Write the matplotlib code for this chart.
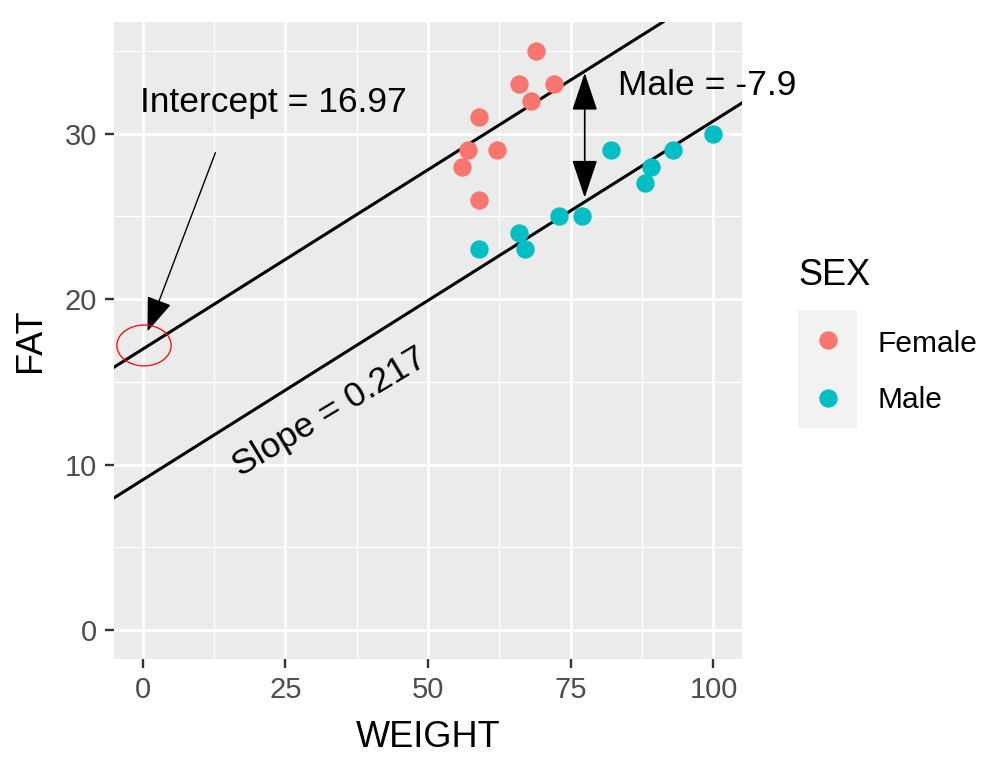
import matplotlib
matplotlib.use("Agg")
import matplotlib.pyplot as plt
from matplotlib.patches import FancyArrowPatch, Ellipse, ArrowStyle

# ---- data ----
categories = ["Female", "Male"]
female_weight = [69, 66, 72, 68, 59, 57, 62, 56, 59]
female_fat = [35, 33, 33, 32, 31, 29, 29, 28, 26]
male_weight = [59, 66, 67, 73, 77, 82, 89, 88, 93, 100]
male_fat = [23, 24, 23, 25, 25, 29, 28, 27, 29, 30]
intercept = 16.97
slope = 0.217
male_effect = -7.9
x_ticks = [0, 25, 50, 75, 100]
y_ticks = [0, 10, 20, 30]
colors = {"Female": "#F8766D", "Male": "#00BFC4"}

FONT = "Liberation Sans"
plt.rcParams["font.family"] = [FONT, "DejaVu Sans"]

W, H = 1006, 771
fig = plt.figure(figsize=(W / 100, H / 100), dpi=100)
fig.patch.set_facecolor("white")

def fx(px):
    return px / W

def fy(py):
    return 1 - py / H

ax = fig.add_axes([fx(114), fy(659), (742 - 114) / W, (659 - 22) / H])
ax.set_facecolor("#EBEBEB")
for s in ax.spines.values():
    s.set_visible(False)

ax.set_xlim(-5, 105)
ax.set_ylim(-1.75, 36.75)
ax.set_xticks(x_ticks)
ax.set_yticks(y_ticks)
ax.set_xticks([12.5, 37.5, 62.5, 87.5], minor=True)
ax.set_yticks([5, 15, 25, 35], minor=True)
ax.grid(which="major", color="white", lw=2.0)
ax.grid(which="minor", color="white", lw=1.0)
ax.set_axisbelow(True)
ax.tick_params(which="major", length=6.3, width=1.7, color="#333333",
               labelsize=21, labelcolor="#4D4D4D", pad=6)
ax.tick_params(which="minor", length=0)

# regression lines
ax.axline((0, intercept), slope=slope, color="black", lw=2.2, zorder=3)
ax.axline((0, intercept + male_effect), slope=slope, color="black", lw=2.2, zorder=3)

# points
ax.scatter(female_weight, female_fat, s=175, color=colors["Female"], lw=0, zorder=4)
ax.scatter(male_weight, male_fat, s=175, color=colors["Male"], lw=0, zorder=4)

# annotations
ax.text(-0.5, 31.34, f"Intercept = {intercept:.2f}", fontsize=25.5,
        ha="left", va="baseline", color="black", zorder=6)
ax.text(83.2, 32.35, f"Male = {male_effect}", fontsize=25.5,
        ha="left", va="baseline", color="black", zorder=6, clip_on=False)
ax.text(32.7, 13.16, f"Slope = {slope}", fontsize=25.5, rotation=31,
        rotation_mode="anchor", ha="center", va="center", color="black", zorder=6)

arr1 = FancyArrowPatch((12.76, 28.85), (0.87, 18.05),
                       arrowstyle=ArrowStyle("-|>", head_length=21.6, head_width=8),
                       mutation_scale=1, lw=1.0, color="black",
                       shrinkA=0, shrinkB=0, zorder=6)
ax.add_patch(arr1)

arr2 = FancyArrowPatch((77.45, 33.68), (77.45, 26.13),
                       arrowstyle=ArrowStyle("<|-|>", head_length=24, head_width=8),
                       mutation_scale=1, lw=1.2, color="black",
                       shrinkA=0, shrinkB=0, zorder=6)
ax.add_patch(arr2)

ell = Ellipse((0.26, 17.2), 9.5, 2.47, fill=False, edgecolor="red", lw=0.9, zorder=6)
ax.add_patch(ell)

# axis titles
fig.text(fx(428), fy(747), "WEIGHT", fontsize=26, ha="center", va="baseline")
fig.text(fx(40), fy(340), "FAT", fontsize=26, rotation=90, rotation_mode="anchor",
         ha="center", va="baseline")

# legend
fig.text(fx(798), fy(285), "SEX", fontsize=26, ha="left", va="baseline")
lax = fig.add_axes([fx(798), fy(428), 59 / W, 118 / H])
lax.set_facecolor("#F2F2F2")
for s in lax.spines.values():
    s.set_visible(False)
lax.set_xticks([])
lax.set_yticks([])
lax.set_xlim(0, 1)
lax.set_ylim(0, 1)
key_y = [0.746, 0.254]
label_base = [351.7, 408.3]
for cat, ky, lb in zip(categories, key_y, label_base):
    lax.scatter([0.5], [ky], s=175, color=colors[cat], lw=0)
    fig.text(fx(877), fy(lb), cat, fontsize=21.5, ha="left", va="baseline",
             color="black")

fig.savefig("out.png", dpi=100)
